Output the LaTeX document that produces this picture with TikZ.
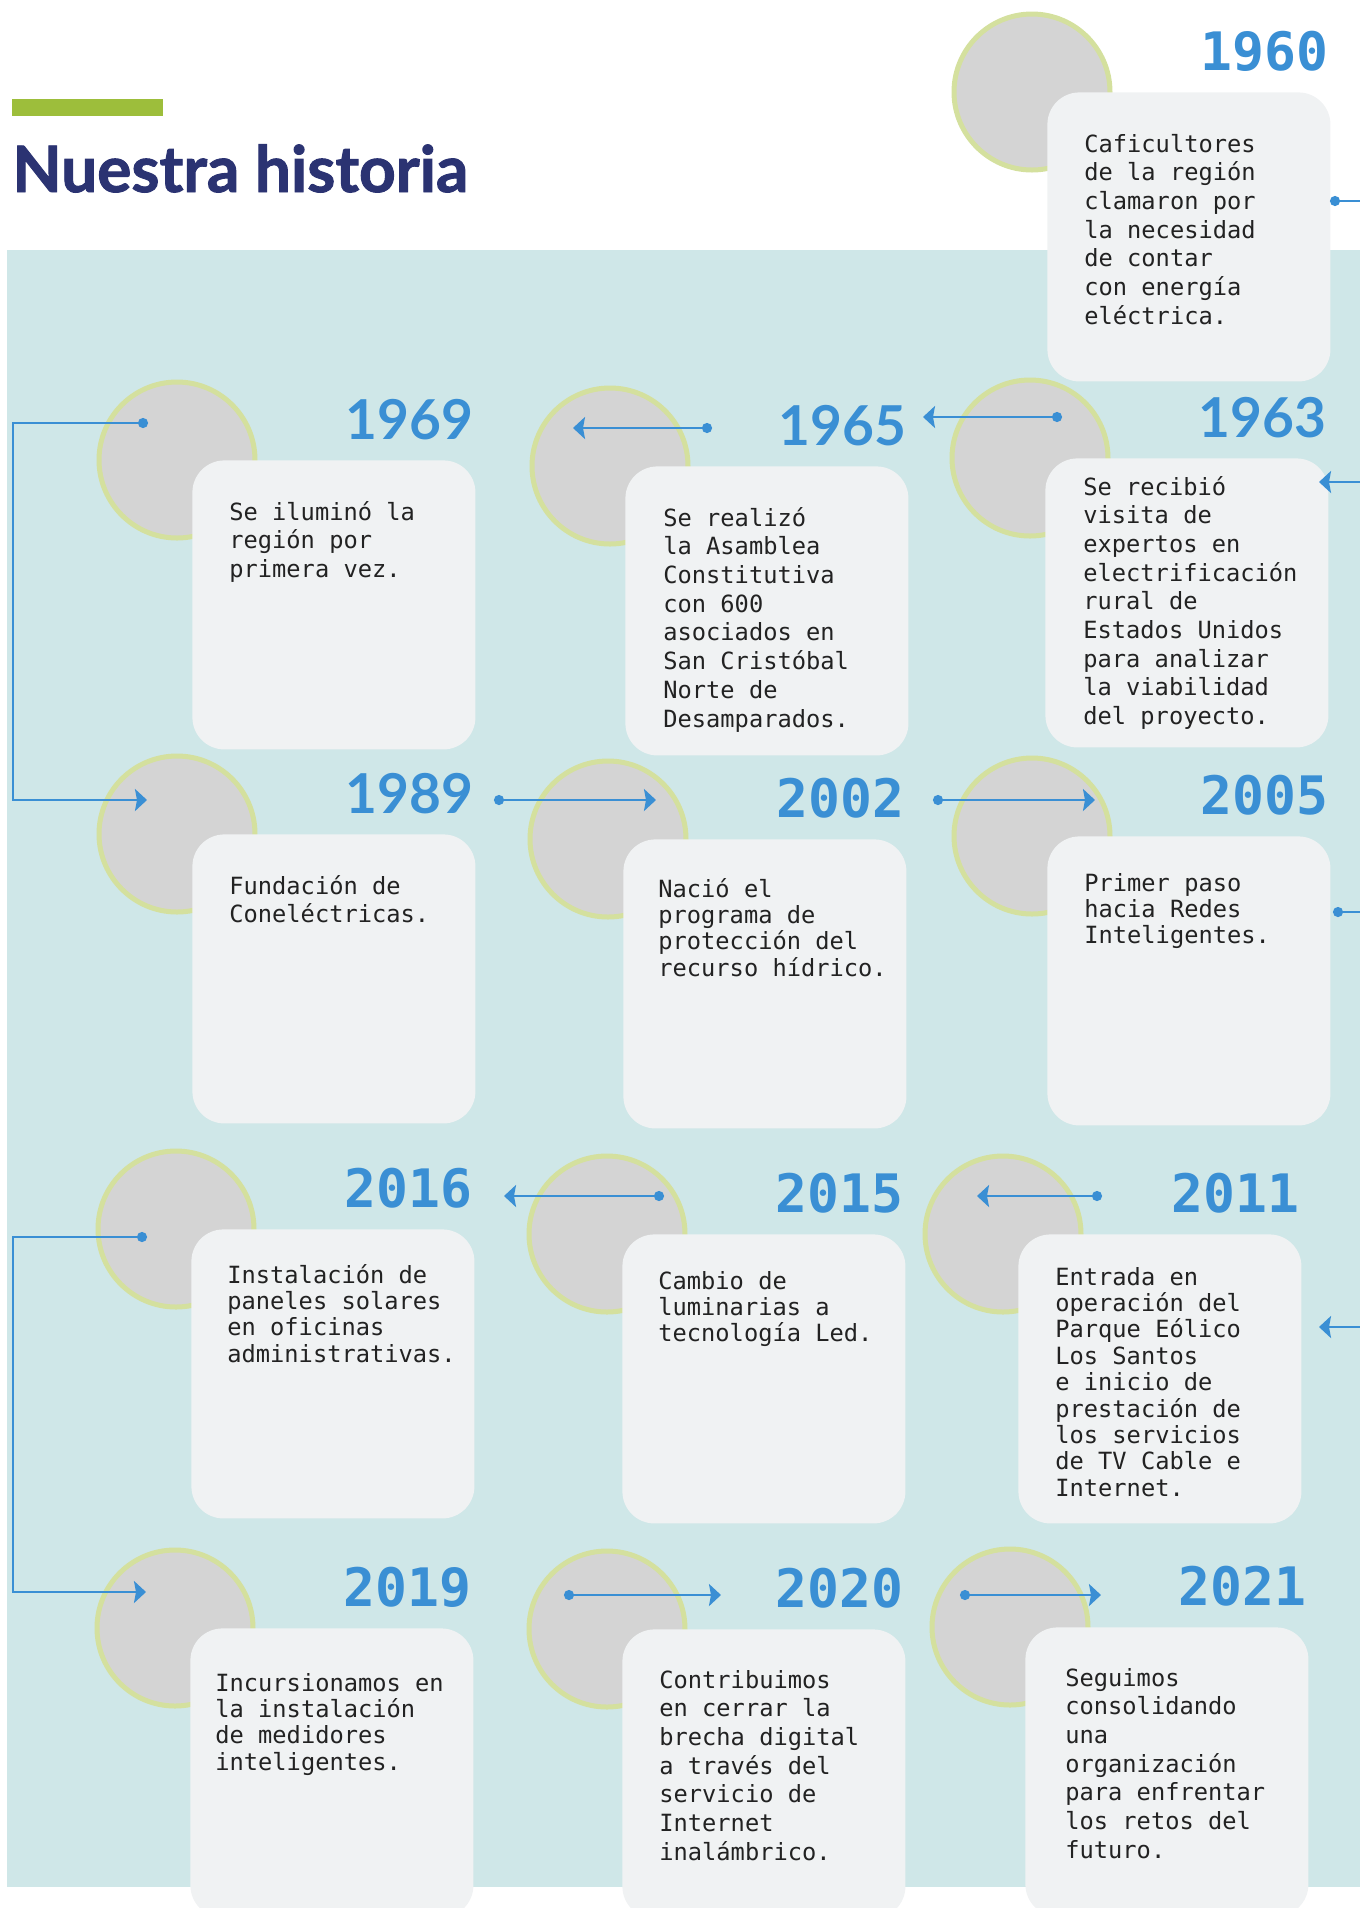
\documentclass[tikz,border=0pt]{standalone}
\usepackage{fontspec}
\usepackage{xcolor}
\usetikzlibrary{positioning,arrows.meta}
\newfontfamily\monofont{DejaVu Sans Mono}
\newfontfamily\latofont{Lato}
\newfontfamily\titlefont{Lato}[BoldFeatures={FakeBold=1.5}]
\definecolor{bgblue}{HTML}{CFE7E8}
\definecolor{yearblue}{HTML}{3A8FD4}
\definecolor{navy}{HTML}{2B3372}
\definecolor{bargreen}{HTML}{9DBE3B}
\definecolor{ringgreen}{HTML}{D4E09E}
\definecolor{discgray}{HTML}{D4D4D4}
\definecolor{cardwhite}{HTML}{F0F2F3}
\definecolor{inkgray}{HTML}{222222}

\begin{document}
\begin{tikzpicture}[x=0.5pt,y=-0.5pt,
 disc/.style={circle,fill=discgray,draw=ringgreen,line width=2.5pt,minimum size=78pt,inner sep=0pt},
 card/.style={rectangle,rounded corners=16pt,fill=cardwhite,minimum width=141.5pt,minimum height=144.5pt,inner sep=0pt},
 note/.style={anchor=base west,inner sep=0pt,align=left,text=inkgray,font=\monofont\fontsize{11.85}{14.35}\selectfont},
 notetight/.style={note,font=\monofont\fontsize{11.85}{13.2}\selectfont},
 yearmono/.style={inner sep=0pt,text=yearblue,font=\monofont\bfseries\fontsize{26.5}{30}\selectfont},
 yearsans/.style={inner sep=0pt,text=yearblue,font=\latofont\bfseries\fontsize{27.5}{30}\selectfont},
 link/.style={draw=yearblue,line width=1.35pt,{Circle[length=5pt]}-{Stealth[length=6pt,width=11pt,inset=1pt]}},
 tail/.style={draw=yearblue,line width=1.35pt,{Circle[length=5pt]}-},
 feed/.style={draw=yearblue,line width=1.35pt,-{Stealth[length=6pt,width=11pt,inset=1pt]}}]
\useasboundingbox (0,0) rectangle (1360,1908);
\clip (0,0) rectangle (1360,1908);
\fill[bgblue] (7,250) rectangle (1360,1887);
\fill[bargreen] (12,99) rectangle (163,116);
\node[anchor=base west,inner sep=0pt,text=navy,font=\titlefont\bfseries\fontsize{32}{35}\selectfont] (title) at (12,192) {Nuestra historia};

\node[disc] (c60) at (1032,92) {};
\node[disc] (c63) at (1030,458) {};
\node[disc] (c65) at (610,466) {};
\node[disc] (c69) at (177,460) {};
\node[disc] (c89) at (177,834) {};
\node[disc] (c02) at (608,839) {};
\node[disc] (c05) at (1032,836) {};
\node[disc] (c11) at (1003,1234) {};
\node[disc] (c15) at (607,1234) {};
\node[disc] (c16) at (176,1229) {};
\node[disc] (c19) at (175,1628) {};
\node[disc] (c20) at (607,1629) {};
\node[disc] (c21) at (1010,1627) {};

\node[card] (b60) [below right=0pt and 7.5pt of c60.center] {};
\node[card] (b63) [below right=0pt and 7.5pt of c63.center] {};
\node[card] (b65) [below right=0pt and 7.5pt of c65.center] {};
\node[card] (b69) [below right=0pt and 7.5pt of c69.center] {};
\node[card] (b89) [below right=0pt and 7.5pt of c89.center] {};
\node[card] (b02) [below right=0pt and 7.5pt of c02.center] {};
\node[card] (b05) [below right=0pt and 7.5pt of c05.center] {};
\node[card] (b11) [below right=0pt and 7.5pt of c11.center] {};
\node[card] (b15) [below right=0pt and 7.5pt of c15.center] {};
\node[card] (b16) [below right=0pt and 7.5pt of c16.center] {};
\node[card] (b19) [below right=0pt and 7.5pt of c19.center] {};
\node[card] (b20) [below right=0pt and 7.5pt of c20.center] {};
\node[card] (b21) [below right=0pt and 7.5pt of c21.center] {};

\node[yearmono] (y60) [above left=10pt and 1pt of b60.north east] {1960};
\node[yearsans] (y63) [above left=10pt and 1pt of b63.north east] {1963};
\node[yearsans] (y65) [above left=10pt and 1pt of b65.north east] {1965};
\node[yearsans] (y69) [above left=10pt and 1pt of b69.north east] {1969};
\node[yearsans] (y89) [above left=10pt and 1pt of b89.north east] {1989};
\node[yearmono] (y02) [above left=10pt and 1pt of b02.north east] {2002};
\node[yearmono] (y05) [above left=10pt and 1pt of b05.north east] {2005};
\node[yearmono] (y11) [above left=10pt and 1pt of b11.north east] {2011};
\node[yearmono] (y15) [above left=10pt and 1pt of b15.north east] {2015};
\node[yearmono] (y16) [above left=10pt and 1pt of b16.north east] {2016};
\node[yearmono] (y19) [above left=10pt and 1pt of b19.north east] {2019};
\node[yearmono] (y20) [above left=10pt and 1pt of b20.north east] {2020};
\node[yearmono] (y21) [above left=10pt and 1pt of b21.north east] {2021};

\node[note] (t60) at ([shift={(18.5pt,-116.1pt)}]b60.north west) {Caficultores\\de la región\\clamaron por\\la necesidad\\de contar\\con energía\\eléctrica.};
\node[note] (t63) at ([shift={(19pt,-133.3pt)}]b63.north west) {Se recibió\\visita de\\expertos en\\electrificación\\rural de\\Estados Unidos\\para analizar\\la viabilidad\\del proyecto.};
\node[note] (t65) at ([shift={(19pt,-130.5pt)}]b65.north west) {Se realizó\\la Asamblea\\Constitutiva\\con 600\\asociados en\\San Cristóbal\\Norte de\\Desamparados.};
\node[note] (t69) at ([shift={(18.5pt,-58.7pt)}]b69.north west) {Se iluminó la\\región por\\primera vez.};
\node[note] (t89) at ([shift={(18.5pt,-44.4pt)}]b89.north west) {Fundación de\\Coneléctricas.};
\node[notetight] (t02) at ([shift={(17.5pt,-68.6pt)}]b02.north west) {Nació el\\programa de\\protección del\\recurso hídrico.};
\node[notetight] (t05) at ([shift={(18.5pt,-53.9pt)}]b05.north west) {Primer paso\\hacia Redes\\Inteligentes.};
\node[notetight] (t11) at ([shift={(18.5pt,-131.1pt)}]b11.north west) {Entrada en\\operación del\\Parque Eólico\\Los Santos\\e inicio de\\prestación de\\los servicios\\de TV Cable e\\Internet.};
\node[notetight] (t15) at ([shift={(18pt,-53.9pt)}]b15.north west) {Cambio de\\luminarias a\\tecnología Led.};
\node[notetight] (t16) at ([shift={(18pt,-66.6pt)}]b16.north west) {Instalación de\\paneles solares\\en oficinas\\administrativas.};
\node[notetight] (t19) at ([shift={(12.5pt,-71.1pt)}]b19.north west) {Incursionamos en\\la instalación\\de medidores\\inteligentes.};
\node[note] (t20) at ([shift={(18.5pt,-115.6pt)}]b20.north west) {Contribuimos\\en cerrar la\\brecha digital\\a través del\\servicio de\\Internet\\inalámbrico.};
\node[note] (t21) at ([shift={(20pt,-115.6pt)}]b21.north west) {Seguimos\\consolidando\\una\\organización\\para enfrentar\\los retos del\\futuro.};

\coordinate (s60) at (1330,201);
\coordinate (e60) at (1360,201);
\coordinate (f63) at (1360,482);
\coordinate (h63) at (1319,482);
\coordinate (s63) at (1062,417);
\coordinate (h65) at (923,417);
\coordinate (s65) at (712,428);
\coordinate (h69) at (573,428);
\coordinate (s69) at (148,423);
\coordinate (k69) at (13,423);
\coordinate (k89) at (13,800);
\coordinate (h89) at (147,800);
\coordinate (s89) at (494,800);
\coordinate (h02) at (656,800);
\coordinate (s02) at (933,800);
\coordinate (h05) at (1095,800);
\coordinate (s05) at (1333,912);
\coordinate (e05) at (1360,912);
\coordinate (f11) at (1360,1327);
\coordinate (h11) at (1319,1327);
\coordinate (s11) at (1102,1196);
\coordinate (h15) at (977,1196);
\coordinate (s15) at (664,1196);
\coordinate (h16) at (504,1196);
\coordinate (s16) at (147,1237);
\coordinate (k16) at (13,1237);
\coordinate (k19) at (13,1592);
\coordinate (h19) at (146,1592);
\coordinate (s19) at (564,1595);
\coordinate (h20) at (721,1595);
\coordinate (s20) at (960,1595);
\coordinate (h21) at (1101,1595);

\path[tail] (s60) -- (e60);
\path[feed] (f63) -- (h63);
\path[link] (s63) -- (h65);
\path[link] (s65) -- (h69);
\path[link] (s69) -- (k69) -- (k89) -- (h89);
\path[link] (s89) -- (h02);
\path[link] (s02) -- (h05);
\path[tail] (s05) -- (e05);
\path[feed] (f11) -- (h11);
\path[link] (s11) -- (h15);
\path[link] (s15) -- (h16);
\path[link] (s16) -- (k16) -- (k19) -- (h19);
\path[link] (s19) -- (h20);
\path[link] (s20) -- (h21);
\end{tikzpicture}
\end{document}
